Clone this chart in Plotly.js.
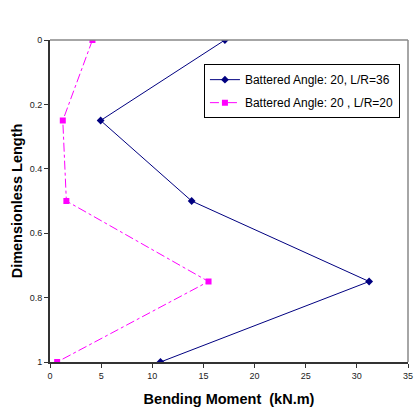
<!DOCTYPE html>
<html>
<head>
<meta charset="utf-8">
<script src="https://cdn.plot.ly/plotly-3.0.1.min.js"></script>
<style>html,body{margin:0;padding:0;background:#fff;}#chart{width:414px;height:411px;}</style>
</head>
<body>
<div id="chart"></div>
<script>
const depth = [0, 0.25, 0.5, 0.75, 1];
const momentLR36 = [17.1, 4.95, 13.85, 31.2, 10.8];
const momentLR20 = [4.15, 1.25, 1.6, 15.5, 0.7];
const seriesNames = ["Battered Angle: 20, L/R=36", "Battered Angle: 20 , L/R=20"];
const xTicks = [0, 5, 10, 15, 20, 25, 30, 35];
const yTicks = [0, 0.2, 0.4, 0.6, 0.8, 1];
const yTickText = ["0", "0.2", "0.4", "0.6", "0.8", "1"];

const traces = [
  {x: momentLR36, y: depth, name: seriesNames[0], legendgroup: 'a', type: 'scatter', mode: 'lines+markers',
   line: {color: '#000080', width: 1}, marker: {symbol: 'diamond', size: 6, color: '#000080'}},
  {x: momentLR20, y: depth, name: seriesNames[1], legendgroup: 'b', type: 'scatter', mode: 'lines+markers',
   line: {color: '#FF00FF', width: 1, dash: 'dashdot'}, marker: {symbol: 'square', size: 6, color: '#FF00FF'}}
];

const layout = {
  width: 414, height: 411,
  margin: {l: 50, r: 6, t: 40, b: 49, autoexpand: false},
  paper_bgcolor: '#fff', plot_bgcolor: '#fff',
  font: {family: 'Liberation Sans, Arial, sans-serif', color: '#000'},
  showlegend: true,
  legend: {x: 0.43, y: 0.925, xanchor: 'left', yanchor: 'top', bordercolor: '#000', borderwidth: 1,
           bgcolor: '#fff', font: {size: 12, color: '#000'}, tracegroupgap: 4},
  xaxis: {range: [0, 35], tickvals: xTicks, ticks: 'outside', ticklen: 4, tickcolor: '#333',
          showgrid: false, zeroline: false, showline: true, linecolor: '#333', linewidth: 2,
          tickfont: {size: 9, color: '#222'},
          title: {text: 'Bending Moment  (kN.m)', font: {size: 14.5, color: '#000', weight: 'bold'}, standoff: 14}},
  yaxis: {range: [1, 0], tickvals: yTicks, ticktext: yTickText, ticks: 'outside', ticklen: 4, tickcolor: '#333',
          showgrid: false, zeroline: false, showline: true, linecolor: '#333', linewidth: 2,
          tickfont: {size: 9, color: '#222'},
          title: {text: 'Dimensionless Length', font: {size: 14.5, color: '#000', weight: 'bold'}, standoff: 4}},
  shapes: [
    {type: 'line', xref: 'paper', yref: 'paper', x0: 0, x1: 1, y0: 1, y1: 1, line: {color: '#888', width: 1.5}},
    {type: 'line', xref: 'paper', yref: 'paper', x0: 1, x1: 1, y0: 0, y1: 1, line: {color: '#888', width: 1.5}}
  ]
};

Plotly.newPlot('chart', traces, layout, {displayModeBar: false, staticPlot: true});
</script>
</body>
</html>
